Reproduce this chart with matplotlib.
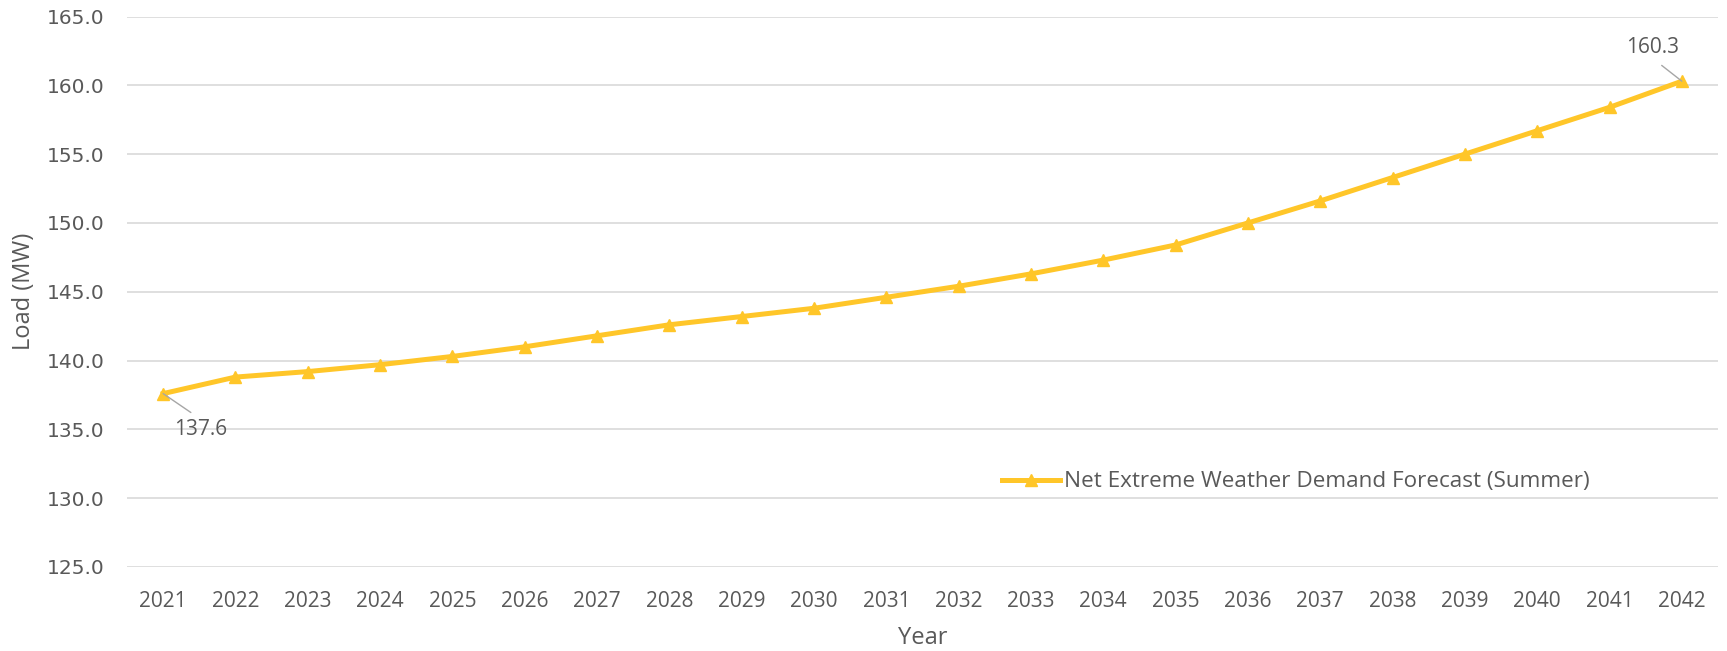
import matplotlib
matplotlib.use("Agg")
import matplotlib.pyplot as plt

years = [str(y) for y in range(2021, 2043)]
demand = [137.6, 138.8, 139.2, 139.7, 140.3, 141.0, 141.8, 142.6, 143.2, 143.8,
          144.6, 145.4, 146.3, 147.3, 148.4, 150.0, 151.6, 153.3, 155.0, 156.7,
          158.4, 160.3]
y_ticks = [125.0, 130.0, 135.0, 140.0, 145.0, 150.0, 155.0, 160.0, 165.0]
series_name = "Net Extreme Weather Demand Forecast (Summer)"

TEXT = "#595959"
GRID = "#d9d9d9"
GOLD = "#FFC629"

plt.rcParams["font.family"] = ["Open Sans", "DejaVu Sans"]

fig = plt.figure(figsize=(17.27, 6.51), dpi=100)
ax = fig.add_axes([127 / 1727, 1 - 567 / 651, (1718 - 127) / 1727, (567 - 16.5) / 651])

x = list(range(len(years)))
line, = ax.plot(x, demand, color=GOLD, lw=3.6, marker="^", markersize=9,
                markeredgecolor=GOLD, solid_joinstyle="round", label=series_name,
                zorder=3)

ax.set_xlim(-0.5, len(years) - 0.5)
ax.set_ylim(y_ticks[0], y_ticks[-1])
ax.set_xticks(x)
ax.set_xticklabels(years)
ax.set_yticks(y_ticks)
ax.set_yticklabels([f"{v:.1f}" for v in y_ticks], family=["DejaVu Sans"])

ax.grid(axis="y", color=GRID, lw=1.2)
ax.set_axisbelow(True)
for s in ax.spines.values():
    s.set_visible(False)
ax.tick_params(axis="x", length=0, colors=TEXT, labelsize=15, pad=17)
ax.tick_params(axis="y", length=0, colors=TEXT, labelsize=14.5, pad=16)

ax.set_xlabel("Year", color=TEXT, fontsize=17, labelpad=10)
ax.set_ylabel("Load (MW)", color=TEXT, fontsize=17, labelpad=8)

# data labels for first and last year
ax.annotate(f"{demand[0]:.1f}", xy=(x[0], demand[0]), xytext=(27, -26),
            textcoords="offset points", ha="center", va="center",
            fontsize=15, color=TEXT,
            arrowprops=dict(arrowstyle="-", color="#a6a6a6", lw=1,
                            relpos=(0.5, 1.0), shrinkA=5, shrinkB=0))
ax.annotate(f"{demand[-1]:.1f}", xy=(x[-1], demand[-1]), xytext=(-21, 24),
            textcoords="offset points", ha="center", va="center",
            fontsize=15, color=TEXT,
            arrowprops=dict(arrowstyle="-", color="#a6a6a6", lw=1,
                            relpos=(0.5, 0.0), shrinkA=5, shrinkB=0))

fig.legend(handles=[line], loc="center left",
           bbox_to_anchor=(1002 / 1727, 1 - 482 / 651), frameon=False,
           fontsize=16.2, labelcolor=TEXT, handlelength=2.6, handletextpad=0.15,
           borderpad=0, borderaxespad=0)

fig.savefig("out.png", dpi=100, facecolor="white")
